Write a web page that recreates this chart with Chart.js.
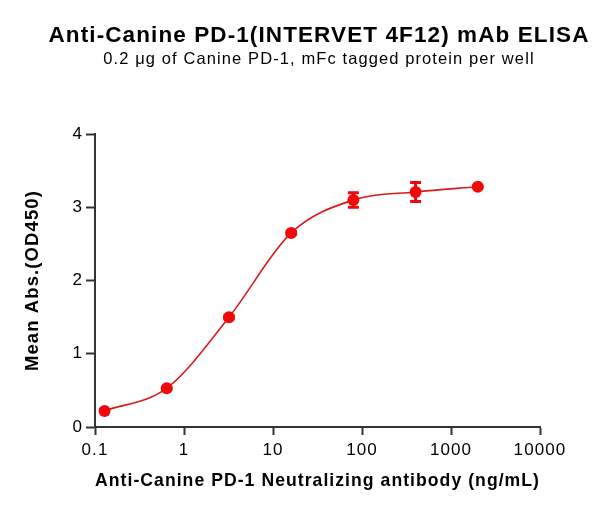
<!DOCTYPE html>
<html>
<head>
<meta charset="utf-8">
<script src="https://cdn.jsdelivr.net/npm/chart.js@4.4.0/dist/chart.umd.min.js"></script>
<style>
	html, body { margin: 0; padding: 0; background: #fff; }
	#wrap { width: 608px; height: 514px; }
</style>
</head>
<body>
<div id="wrap"><canvas id="elisaChart" width="608" height="514"></canvas></div>
<script>
	// values
	var concentrations = [0.128, 0.64, 3.2, 16, 80, 400, 2000];
	var mean_abs       = [0.22, 0.53, 1.50, 2.65, 3.10, 3.21, 3.28];
	var sd_abs         = [0.01, 0.01, 0.02, 0.02, 0.10, 0.13, 0.01];
	var x_ticks        = [0.1, 1, 10, 100, 1000, 10000];
	var y_ticks        = [0, 1, 2, 3, 4];

	var red_point = '#ee0a0a';
	var red_line  = '#dc1a1a';
	var axis_col  = '#333333';

	Chart.defaults.font.family = "Arial, 'Liberation Sans', Helvetica, sans-serif";
	Chart.defaults.color = '#000';

	// the source text is drawn a little wide
	var spacing = {
		id: 'spacing',
		beforeUpdate: function(c) { c.ctx.letterSpacing = '1.1px'; },
		beforeDraw: function(c) { c.ctx.letterSpacing = '1.1px'; }
	};

	var errorBars = {
		id: 'errorBars',
		beforeDatasetsDraw: function(chart) {
			var ctx = chart.ctx;
			var xs = chart.scales.x, ys = chart.scales.y;
			ctx.save();
			ctx.strokeStyle = red_point;
			ctx.lineWidth = 3;
			ctx.lineCap = 'butt';
			for (var i = 0; i < concentrations.length; i++) {
				var px = xs.getPixelForValue(concentrations[i]);
				var top = ys.getPixelForValue(mean_abs[i] + sd_abs[i]);
				var bot = ys.getPixelForValue(mean_abs[i] - sd_abs[i]);
				ctx.beginPath();
				ctx.moveTo(px, top); ctx.lineTo(px, bot);
				ctx.moveTo(px - 5.5, top); ctx.lineTo(px + 5.5, top);
				ctx.moveTo(px - 5.5, bot); ctx.lineTo(px + 5.5, bot);
				ctx.stroke();
			}
			ctx.restore();
		}
	};

	var points = concentrations.map(function(c, i) { return {x: c, y: mean_abs[i]}; });

	var ctxChart = document.getElementById('elisaChart').getContext('2d');
	var myChart = new Chart(ctxChart, {
		type: 'line',
		data: {
			datasets: [{
				data: points,
				borderColor: red_line,
				borderWidth: 1.6,
				cubicInterpolationMode: 'monotone',
				pointRadius: 6,
				pointBackgroundColor: red_point,
				pointBorderWidth: 0,
				fill: false
			}]
		},
		options: {
			responsive: false,
			animation: false,
			layout: { padding: { left: 22, right: -8, top: 0, bottom: 0 } },
			plugins: {
				legend: { display: false },
				tooltip: { enabled: false },
				title: {
					display: true,
					text: 'Anti-Canine PD-1(INTERVET 4F12) mAb ELISA',
					font: { size: 22.5, weight: 'bold' },
					color: '#000',
					padding: { top: 22, bottom: 0 }
				},
				subtitle: {
					display: true,
					text: '0.2 \u03bcg of Canine PD-1, mFc tagged protein per well',
					font: { size: 16.5 },
					color: '#000',
					padding: { top: 0.4, bottom: 64.9 }
				}
			},
			scales: {
				x: {
					type: 'logarithmic',
					min: 0.1,
					max: 10000,
					afterBuildTicks: function(scale) {
						scale.ticks = x_ticks.map(function(v) { return {value: v}; });
					},
					afterFit: function(scale) {
						scale.height = 87;
						scale.paddingRight = 68;
					},
					ticks: {
						autoSkip: false,
						maxRotation: 0,
						padding: 5,
						font: { size: 17 },
						color: '#000',
						callback: function(v) { return String(v); }
					},
					grid: { drawOnChartArea: false, drawTicks: true, tickLength: 8, tickWidth: 2, tickColor: axis_col },
					border: { display: true, color: axis_col, width: 2 },
					title: {
						display: true,
						text: 'Anti-Canine PD-1 Neutralizing antibody (ng/mL)',
						font: { size: 18.5, weight: 'bold' },
						color: '#000',
						padding: { top: 0, bottom: 22.3 }
					}
				},
				y: {
					type: 'linear',
					min: 0,
					max: 4,
					afterBuildTicks: function(scale) {
						scale.ticks = y_ticks.map(function(v) { return {value: v}; });
					},
					afterFit: function(scale) {
						scale.width = 73;
					},
					ticks: {
						padding: 3,
						font: { size: 17 },
						color: '#000'
					},
					grid: { drawOnChartArea: false, drawTicks: true, tickLength: 9, tickWidth: 2, tickColor: axis_col },
					border: { display: true, color: axis_col, width: 2 },
					title: {
						display: true,
						text: 'Mean Abs.(OD450)',
						font: { size: 18.5, weight: 'bold' },
						color: '#000',
						padding: { top: 0, bottom: 0 }
					}
				}
			}
		},
		plugins: [spacing, errorBars]
	});
</script>
</body>
</html>
